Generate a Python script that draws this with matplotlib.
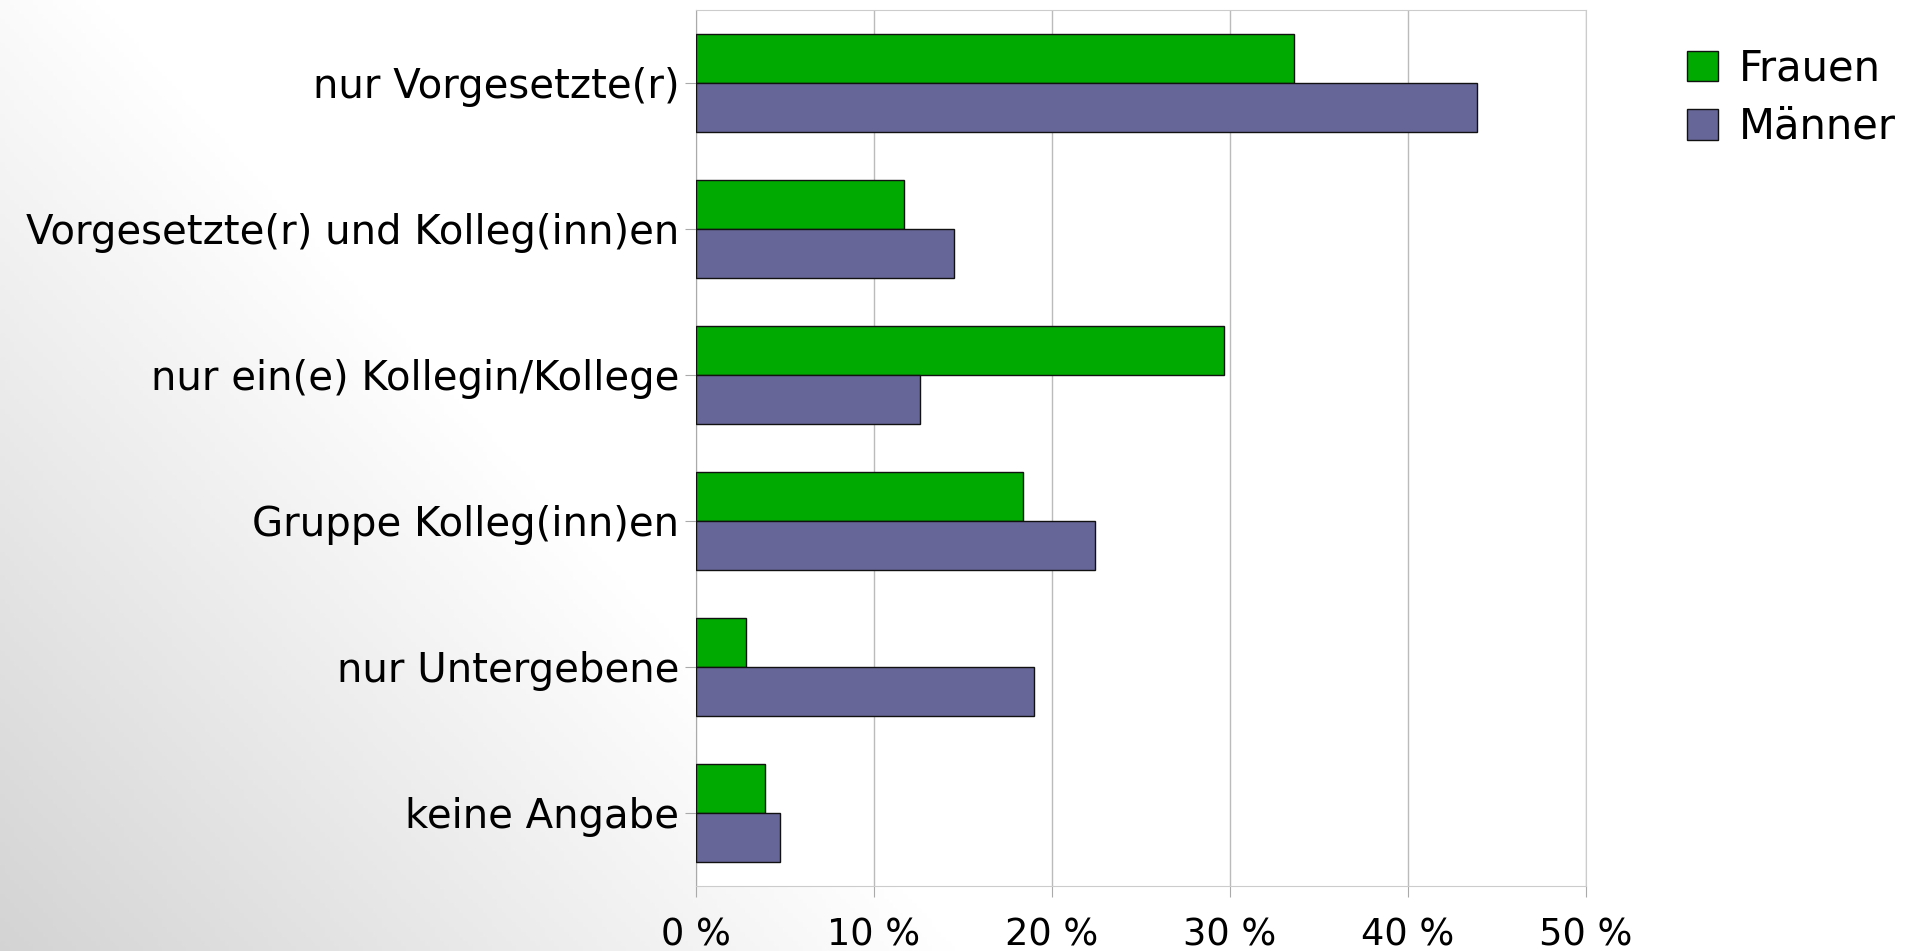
import matplotlib
matplotlib.use("Agg")
import matplotlib.pyplot as plt
import numpy as np

categories = ["nur Vorgesetzte(r)", "Vorgesetzte(r) und Kolleg(inn)en",
              "nur ein(e) Kollegin/Kollege", "Gruppe Kolleg(inn)en",
              "nur Untergebene", "keine Angabe"]
frauen = [33.6, 11.7, 29.7, 18.4, 2.8, 3.9]
maenner = [43.9, 14.5, 12.6, 22.4, 19.0, 4.7]
xticks = [0, 10, 20, 30, 40, 50]
xticklabels = ["0 %", "10 %", "20 %", "30 %", "40 %", "50 %"]

plt.rcParams['font.family'] = ['DejaVu Sans']

W, H = 1911, 951
fig = plt.figure(figsize=(W / 100, H / 100), dpi=100)

# background gradient (grey bottom-left to white top-right)
bg = fig.add_axes([0, 0, 1, 1], zorder=-10)
yy, xx = np.mgrid[0:1:200j, 0:1:400j]
t = np.clip(xx * 2.0 + (1 - yy) * 0.9, 0, 1)
shade = 0.83 + 0.17 * t
bg.imshow(np.dstack([shade, shade, shade]), extent=[0, 1, 0, 1], aspect='auto', origin='upper')
bg.axis('off')

ax = fig.add_axes([696 / W, 1 - 886 / H, (1585.6 - 696) / W, (886 - 10) / H])
ax.set_facecolor('white')

y = np.arange(len(categories))
h = 1 / 3
ax.barh(y - h / 2, frauen, height=h, color='#00aa00', edgecolor='#111111', linewidth=1, label='Frauen', zorder=3)
ax.barh(y + h / 2, maenner, height=h, color='#666699', edgecolor='#111111', linewidth=1, label='Männer', zorder=3)

ax.set_ylim(len(categories) - 0.5, -0.5)
ax.set_xlim(0, 50)
ax.set_yticks(y)
ax.set_yticklabels(categories, fontsize=29)
ax.set_xticks(xticks)
ax.set_xticklabels(xticklabels, fontsize=26.5)
ax.grid(axis='x', color='#bbbbbb', linewidth=1, zorder=0)
ax.tick_params(axis='y', length=8, color='#aaaaaa', pad=4)
ax.tick_params(axis='x', length=8, color='#aaaaaa', pad=14)
for s in ['top', 'right', 'bottom']:
    ax.spines[s].set_color('#cccccc')
ax.spines['left'].set_color('#aaaaaa')

leg = fig.legend(loc='upper left', bbox_to_anchor=(1670 / W, 1 - 31 / H), frameon=False,
                 fontsize=30, handlelength=0.75, handleheight=0.75, handletextpad=0.5,
                 labelspacing=0.39, borderaxespad=0)

fig.savefig("out.png", dpi=100)
